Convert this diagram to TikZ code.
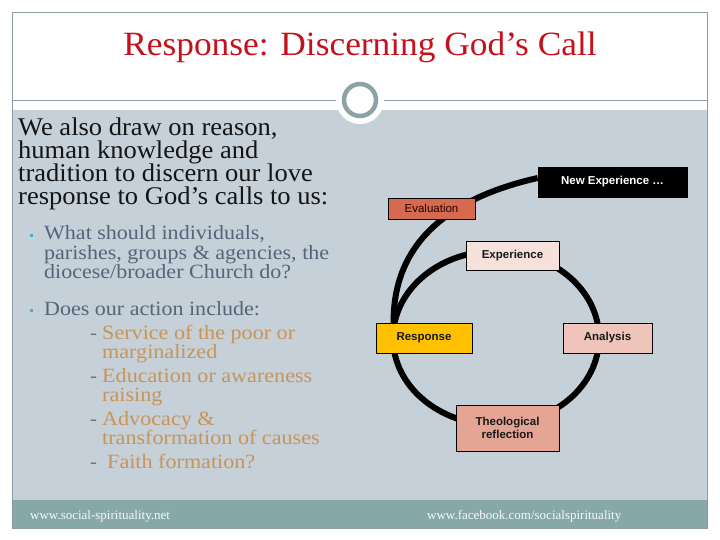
\documentclass[tikz,border=0pt]{standalone}
\usepackage{fontspec}
\setmainfont{Liberation Serif}[FakeStretch=1.04]
\newfontfamily\subf{Liberation Serif}[FakeStretch=1.09]
\newfontfamily\footf{Liberation Serif}
\newfontfamily\arialf{Liberation Sans}
\usetikzlibrary{calc}
\definecolor{bodygrey}{RGB}{197,208,216}
\definecolor{footgrey}{RGB}{135,168,168}
\definecolor{framegrey}{RGB}{142,155,160}
\definecolor{ringcol}{RGB}{139,163,165}
\definecolor{titlered}{RGB}{196,18,28}
\definecolor{bultext}{RGB}{86,100,122}
\definecolor{bulsq}{RGB}{75,172,198}
\definecolor{subtext}{RGB}{200,148,88}
\definecolor{evalfill}{RGB}{214,106,78}
\definecolor{expfill}{RGB}{246,225,220}
\definecolor{respfill}{RGB}{255,192,0}
\definecolor{analfill}{RGB}{239,196,186}
\definecolor{theofill}{RGB}{228,165,149}
\begin{document}
\begin{tikzpicture}[x=1pt,y=-1pt,
  cbox/.style={draw=black, line width=0.7pt, inner sep=0pt, align=center,
    font=\arialf\bfseries\fontsize{11.5}{13}\selectfont, text=black!90},
  introl/.style={anchor=base west, inner sep=0pt, text=black!92, font=\fontsize{25.5}{23}\selectfont},
  bull/.style={anchor=base west, inner sep=0pt, text=bultext, font=\subf\fontsize{20.2}{19}\selectfont},
  subl/.style={anchor=base west, inner sep=0pt, text=subtext, font=\subf\fontsize{20.3}{19}\selectfont},
  dashl/.style={anchor=base west, inner sep=0pt, text=black!55, font=\fontsize{20}{19}\selectfont},
  footl/.style={anchor=base west, inner sep=0pt, text=white!93!footgrey, font=\footf\fontsize{13}{14}\selectfont},
  cyc/.style={draw=black, line width=6pt}]
\useasboundingbox (0,0) rectangle (720,540);
\fill[white] (0,0) rectangle (720,540);
% body and footer
\fill[bodygrey] (12,110) rectangle (707,500);
\fill[footgrey] (12,500) rectangle (707,528);
\draw[framegrey, line width=0.8pt] (12,12) rectangle (707,528);
\draw[framegrey, line width=0.8pt] (12,100) -- (707,100);
\fill[white] (360,100) circle (24);
\draw[ringcol, line width=4.5pt] (360,100) circle (16);
% title
\node[anchor=base, inner sep=0pt, text=titlered, font=\fontsize{34}{36}\selectfont] (title) at (360,56) {Response: Discerning God’s Call};
% intro text
\node[introl] (i1) at (18,136) {We also draw on reason,};
\node[introl] (i2) at (18,159) {human knowledge and};
\node[introl] (i3) at (18,182) {tradition to discern our love};
\node[introl] (i4) at (18,205) {response to God’s calls to us:};
% bullets
\fill[bulsq] (29.5,233.5) rectangle (32.5,236.5);
\fill[bulsq] (29.5,308.5) rectangle (32.5,311.5);
\node[bull] (b1) at (44,240) {What should individuals,};
\node[bull] (b2) at (44,259) {parishes, groups \& agencies, the};
\node[bull] (b3) at (44,278) {diocese/broader Church do?};
\node[bull] (b4) at (44,315) {Does our action include:};
% sub items
\node[dashl] (d1) at (90,339) {-};
\node[subl] (s1) at (102,339) {Service of the poor or};
\node[subl] (s2) at (102,358) {marginalized};
\node[dashl] (d2) at (90,382) {-};
\node[subl] (s3) at (102,382) {Education or awareness};
\node[subl] (s4) at (102,401) {raising};
\node[dashl] (d3) at (90,425) {-};
\node[subl] (s5) at (102,425) {Advocacy \&};
\node[subl] (s6) at (102,444) {transformation of causes};
\node[dashl] (d4) at (90,468) {-};
\node[subl] (s7) at (107,468) {Faith formation?};
% footer
\node[footl] (f1) at (30,519) {www.social-spirituality.net};
\node[footl] (f2) at (427,519) {www.facebook.com/socialspirituality};
% diagram nodes (placed first as coordinates)
\node[cbox, fill=black, text=white, minimum width=149pt, minimum height=30pt] (newexp) at (612.5,182) {New Experience …};
\node[cbox, fill=respfill, minimum width=96pt, minimum height=30pt] (resp) at (424,338) {Response};
% cycle
\draw[cyc] (496,338) ellipse [x radius=103, y radius=87];
\draw[cyc] ($(resp.north west)+(18,2)$) .. controls (392,250) and (440,200) .. ([yshift=4pt]newexp.west);
% redraw boxes on top
\node[cbox, fill=black, text=white, minimum width=149pt, minimum height=30pt] at (newexp) {New Experience …};
\node[cbox, fill=respfill, minimum width=96pt, minimum height=30pt] at (resp) {Response};
\node[cbox, fill=evalfill, minimum width=87pt, minimum height=21pt, font=\arialf\fontsize{11.5}{13}\selectfont, text=black!85!red] (eval) at (431.5,208.5) {Evaluation};
\node[cbox, fill=expfill, minimum width=93pt, minimum height=29pt] (exper) at (512.5,255.5) {Experience};
\node[cbox, fill=analfill, minimum width=89pt, minimum height=30pt] (anal) at (607.5,338) {Analysis};
\node[cbox, fill=theofill, minimum width=103pt, minimum height=46pt] (theo) at (507.5,428) {Theological\\reflection};
\end{tikzpicture}
\end{document}
